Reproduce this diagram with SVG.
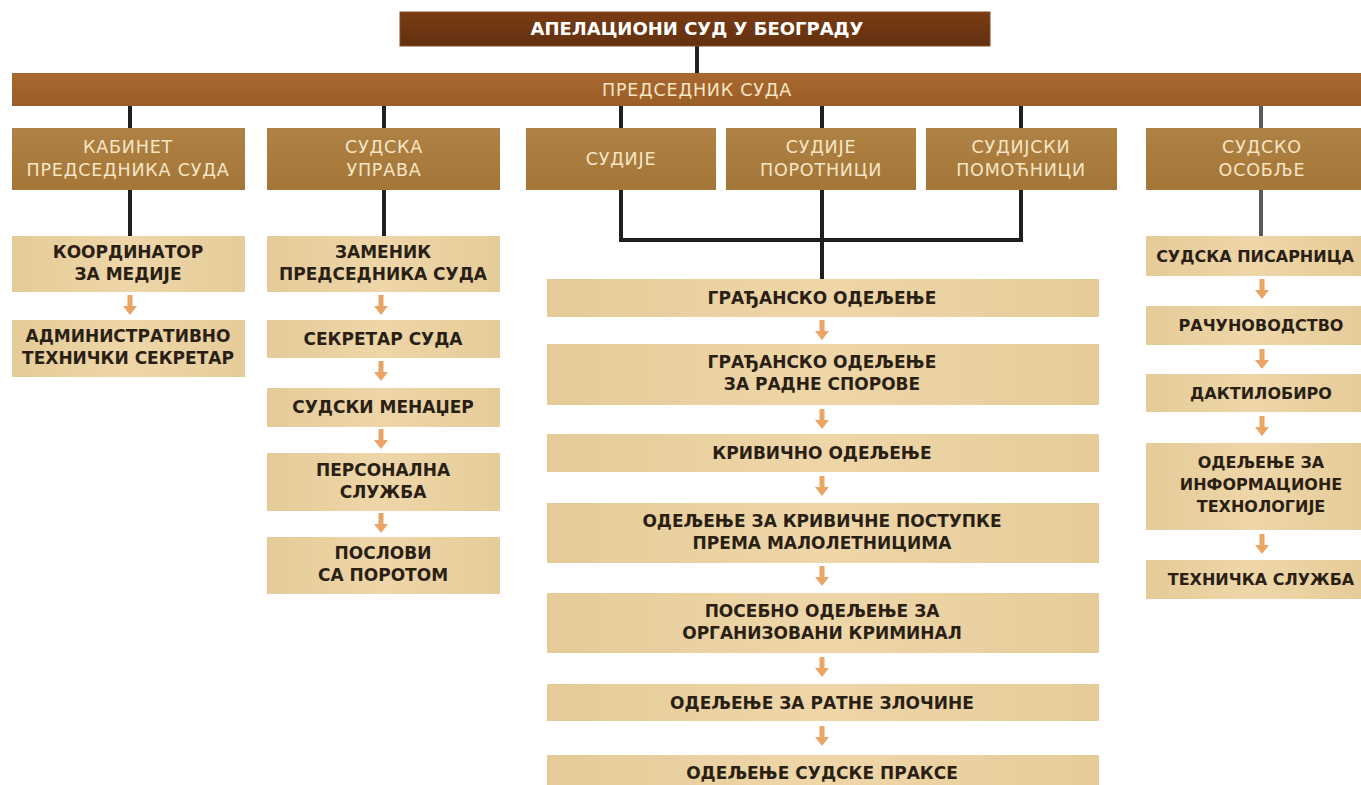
<svg xmlns="http://www.w3.org/2000/svg" width="1361" height="785" viewBox="0 0 1361 785">
<defs>
<linearGradient id="gTitle" x1="0" y1="0" x2="0" y2="1"><stop offset="0" stop-color="#7a3c14"/><stop offset="1" stop-color="#62300f"/></linearGradient>
<linearGradient id="gPres" x1="0" y1="0" x2="0" y2="1"><stop offset="0" stop-color="#a7692f"/><stop offset="1" stop-color="#9c5e27"/></linearGradient>
<linearGradient id="gL2" x1="0" y1="0" x2="0" y2="1"><stop offset="0" stop-color="#ae8244"/><stop offset="1" stop-color="#a47638"/></linearGradient>
<linearGradient id="gL3" x1="0" y1="0" x2="1" y2="0"><stop offset="0" stop-color="#e5cb98"/><stop offset="0.5" stop-color="#eed6a9"/><stop offset="1" stop-color="#e6cc99"/></linearGradient>
<path id="arr" d="M-2.5,0 h5 v11 h4.5 l-7,9 l-7,-9 h4.5 z" fill="#e9a466"/>
<style>
.title{fill:url(#gTitle);stroke:#8a4a1e;stroke-width:1}
.pres{fill:url(#gPres)}
.l2{fill:url(#gL2)}
.l3{fill:url(#gL3)}
.tt{font-family:"DejaVu Sans","Liberation Sans",sans-serif;font-weight:bold;font-size:18px;fill:#ffffff;text-anchor:middle}
.tp{font-family:"DejaVu Sans","Liberation Sans",sans-serif;font-size:17.5px;fill:#f6e6c6;text-anchor:middle;letter-spacing:0.8px}
.t2{font-family:"DejaVu Sans","Liberation Sans",sans-serif;font-size:17.5px;fill:#f6e6c6;text-anchor:middle;letter-spacing:0.8px}
.t3{font-family:"DejaVu Sans","Liberation Sans",sans-serif;font-weight:bold;font-size:17px;fill:#2a1f14;text-anchor:middle}
.r3{font-size:16px}
.ln{stroke:#1f1f1f;stroke-width:4;fill:none}
.lg{stroke:#5a5a5a;stroke-width:4;fill:none}
</style>
</defs>
<rect width="1361" height="785" fill="#ffffff"/>

<g id="connectors">
<path class="ln" d="M697,46 V73"/>
<path class="ln" d="M130,106 V128 M384,106 V128 M621,106 V128 M822,106 V128 M1021,106 V128"/>
<path class="lg" d="M1261,106 V128"/>
<path class="ln" d="M130,190 V236 M384,190 V236"/>
<path class="ln" d="M621,190 V240 H1021 V190 M822,190 V279"/>
<path class="lg" d="M1261,190 V236"/>
<use href="#arr" x="130" y="295"/>
<use href="#arr" x="381" y="295"/>
<use href="#arr" x="381" y="361"/>
<use href="#arr" x="381" y="429"/>
<use href="#arr" x="381" y="513"/>
<use href="#arr" x="822" y="320"/>
<use href="#arr" x="822" y="409"/>
<use href="#arr" x="822" y="476"/>
<use href="#arr" x="822" y="566"/>
<use href="#arr" x="822" y="657"/>
<use href="#arr" x="822" y="726"/>
<use href="#arr" x="1262" y="279"/>
<use href="#arr" x="1262" y="349"/>
<use href="#arr" x="1262" y="416"/>
<use href="#arr" x="1262" y="534"/>
</g>

<g id="n-title"><rect class="title" x="400" y="12" width="590" height="34"/><text class="tt" x="697" y="35">АПЕЛАЦИОНИ СУД У БЕОГРАДУ</text></g>
<g id="n-president"><rect class="pres" x="12" y="73" width="1349" height="33"/><text class="tp" x="697" y="96">ПРЕДСЕДНИК СУДА</text></g>

<g id="n-kabinet"><rect class="l2" x="12" y="128" width="233" height="62"/><text class="t2" x="128" y="153">КАБИНЕТ</text><text class="t2" x="128" y="176">ПРЕДСЕДНИКА СУДА</text></g>
<g id="n-uprava"><rect class="l2" x="267" y="128" width="233" height="62"/><text class="t2" x="384" y="153">СУДСКА</text><text class="t2" x="384" y="176">УПРАВА</text></g>
<g id="n-sudije"><rect class="l2" x="526" y="128" width="190" height="62"/><text class="t2" x="621" y="165">СУДИЈЕ</text></g>
<g id="n-porotnici"><rect class="l2" x="726" y="128" width="190" height="62"/><text class="t2" x="821" y="153">СУДИЈЕ</text><text class="t2" x="821" y="176">ПОРОТНИЦИ</text></g>
<g id="n-pomocnici"><rect class="l2" x="926" y="128" width="191" height="62"/><text class="t2" x="1021" y="153">СУДИЈСКИ</text><text class="t2" x="1021" y="176">ПОМОЋНИЦИ</text></g>
<g id="n-osoblje"><rect class="l2" x="1146" y="128" width="215" height="62"/><text class="t2" x="1262" y="153">СУДСКО</text><text class="t2" x="1262" y="176">ОСОБЉЕ</text></g>

<g id="n-koordinator"><rect class="l3" x="12" y="236" width="233" height="56"/><text class="t3" x="128" y="258">КООРДИНАТОР</text><text class="t3" x="128" y="280">ЗА МЕДИЈЕ</text></g>
<g id="n-admin"><rect class="l3" x="12" y="320" width="233" height="57"/><text class="t3" x="128" y="342">АДМИНИСТРАТИВНО</text><text class="t3" x="128" y="364">ТЕХНИЧКИ СЕКРЕТАР</text></g>

<g id="n-zamenik"><rect class="l3" x="267" y="236" width="233" height="56"/><text class="t3" x="383" y="258">ЗАМЕНИК</text><text class="t3" x="383" y="280">ПРЕДСЕДНИКА СУДА</text></g>
<g id="n-sekretar"><rect class="l3" x="267" y="320" width="233" height="38"/><text class="t3" x="383" y="345">СЕКРЕТАР СУДА</text></g>
<g id="n-menadzer"><rect class="l3" x="267" y="388" width="233" height="39"/><text class="t3" x="383" y="413">СУДСКИ МЕНАЏЕР</text></g>
<g id="n-personalna"><rect class="l3" x="267" y="453" width="233" height="58"/><text class="t3" x="383" y="476">ПЕРСОНАЛНА</text><text class="t3" x="383" y="498">СЛУЖБА</text></g>
<g id="n-porota"><rect class="l3" x="267" y="537" width="233" height="57"/><text class="t3" x="383" y="559">ПОСЛОВИ</text><text class="t3" x="383" y="581">СА ПОРОТОМ</text></g>

<g id="n-gradjansko"><rect class="l3" x="547" y="279" width="552" height="38"/><text class="t3" x="822" y="304">ГРАЂАНСКО ОДЕЉЕЊЕ</text></g>
<g id="n-radni"><rect class="l3" x="547" y="344" width="552" height="61"/><text class="t3" x="822" y="368">ГРАЂАНСКО ОДЕЉЕЊЕ</text><text class="t3" x="822" y="390">ЗА РАДНЕ СПОРОВЕ</text></g>
<g id="n-krivicno"><rect class="l3" x="547" y="434" width="552" height="38"/><text class="t3" x="822" y="459">КРИВИЧНО ОДЕЉЕЊЕ</text></g>
<g id="n-maloletnici"><rect class="l3" x="547" y="503" width="552" height="60"/><text class="t3" x="822" y="527">ОДЕЉЕЊЕ ЗА КРИВИЧНЕ ПОСТУПКЕ</text><text class="t3" x="822" y="549">ПРЕМА МАЛОЛЕТНИЦИМА</text></g>
<g id="n-organizovani"><rect class="l3" x="547" y="593" width="552" height="60"/><text class="t3" x="822" y="617">ПОСЕБНО ОДЕЉЕЊЕ ЗА</text><text class="t3" x="822" y="639">ОРГАНИЗОВАНИ КРИМИНАЛ</text></g>
<g id="n-ratni"><rect class="l3" x="547" y="684" width="552" height="37"/><text class="t3" x="822" y="709">ОДЕЉЕЊЕ ЗА РАТНЕ ЗЛОЧИНЕ</text></g>
<g id="n-praksa"><rect class="l3" x="547" y="755" width="552" height="30"/><text class="t3" x="822" y="779">ОДЕЉЕЊЕ СУДСКЕ ПРАКСЕ</text></g>

<g id="n-pisarnica"><rect class="l3" x="1146" y="236" width="215" height="40"/><text class="t3 r3" x="1255" y="262">СУДСКА ПИСАРНИЦА</text></g>
<g id="n-racunovodstvo"><rect class="l3" x="1146" y="306" width="215" height="39"/><text class="t3 r3" x="1261" y="331">РАЧУНОВОДСТВО</text></g>
<g id="n-daktilobiro"><rect class="l3" x="1146" y="374" width="215" height="38"/><text class="t3 r3" x="1261" y="399">ДАКТИЛОБИРО</text></g>
<g id="n-it"><rect class="l3" x="1146" y="443" width="215" height="87"/><text class="t3 r3" x="1261" y="468">ОДЕЉЕЊЕ ЗА</text><text class="t3 r3" x="1261" y="490">ИНФОРМАЦИОНЕ</text><text class="t3 r3" x="1261" y="512">ТЕХНОЛОГИЈЕ</text></g>
<g id="n-tehnicka"><rect class="l3" x="1146" y="560" width="215" height="39"/><text class="t3 r3" x="1261" y="585">ТЕХНИЧКА СЛУЖБА</text></g>
</svg>
